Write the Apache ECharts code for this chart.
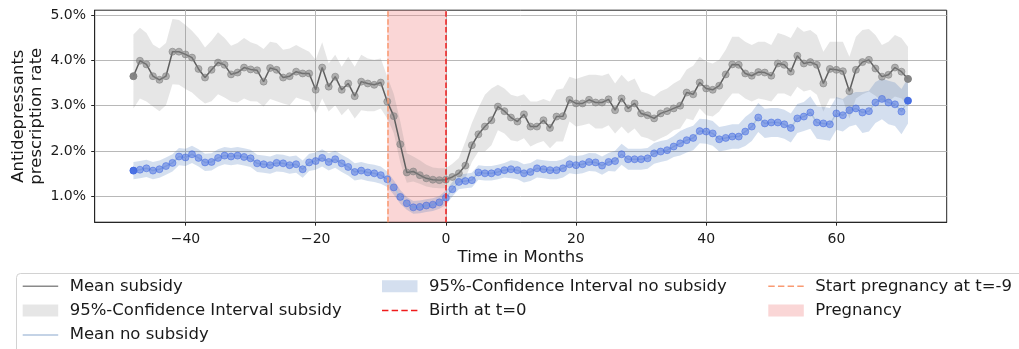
<!DOCTYPE html>
<html>
<head>
<meta charset="utf-8">
<script src="https://cdn.jsdelivr.net/npm/echarts@6/dist/echarts.min.js"></script>
<style>
  html, body { margin: 0; padding: 0; background: #ffffff; }
  #chart { width: 1019px; height: 349px; }
</style>
</head>
<body>
<div id="chart"></div>
<script>
// Months relative to birth (t = 0)
const months = [
  -48,-47,-46,-45,-44,-43,-42,-41,-40,-39,-38,-37,-36,-35,-34,-33,-32,-31,-30,-29,
  -28,-27,-26,-25,-24,-23,-22,-21,-20,-19,-18,-17,-16,-15,-14,-13,-12,-11,-10,-9,
  -8,-7,-6,-5,-4,-3,-2,-1,0,1,2,3,4,5,6,7,8,9,10,11,
  12,13,14,15,16,17,18,19,20,21,22,23,24,25,26,27,28,29,30,31,
  32,33,34,35,36,37,38,39,40,41,42,43,44,45,46,47,48,49,50,51,
  52,53,54,55,56,57,58,59,60,61,62,63,64,65,66,67,68,69,70,71
];

// Prescription rate (%) — women with subsidy
const subsidyMean = [
  3.65,3.99,3.91,3.65,3.57,3.65,4.19,4.19,4.13,4.06,
  3.81,3.62,3.79,3.95,3.90,3.69,3.73,3.84,3.80,3.78,
  3.53,3.83,3.79,3.62,3.65,3.75,3.71,3.71,3.35,3.84,
  3.42,3.64,3.35,3.49,3.21,3.53,3.49,3.46,3.51,3.09,
  2.77,2.15,1.53,1.55,1.47,1.40,1.37,1.36,1.37,1.43,
  1.51,1.68,2.13,2.37,2.54,2.68,2.98,2.88,2.74,2.65,
  2.81,2.54,2.54,2.68,2.51,2.76,2.77,3.13,3.05,3.05,
  3.13,3.07,3.07,3.14,2.90,3.16,2.94,3.05,2.83,2.79,
  2.72,2.83,2.88,2.94,3.00,3.29,3.25,3.51,3.38,3.35,
  3.44,3.69,3.91,3.90,3.71,3.66,3.74,3.73,3.66,3.93,
  3.90,3.75,4.10,3.93,3.96,3.90,3.49,3.81,3.79,3.76,
  3.32,3.79,3.96,4.01,3.82,3.64,3.68,3.84,3.75,3.59
];
const subsidyHigh = [
  4.57,4.72,4.60,4.35,4.26,4.38,4.91,4.89,4.78,4.65,
  4.49,4.28,4.43,4.62,4.49,4.32,4.38,4.49,4.40,4.35,
  4.25,4.41,4.38,4.23,4.26,4.34,4.26,4.19,4.01,4.40,
  3.93,4.12,3.86,4.08,3.86,4.12,4.04,4.01,4.04,3.64,
  3.26,2.65,1.95,1.88,1.80,1.70,1.64,1.62,1.62,1.72,
  1.85,2.21,2.62,2.95,3.24,3.38,3.46,3.38,3.24,3.20,
  3.25,3.09,3.09,3.15,3.09,3.35,3.38,3.64,3.59,3.64,
  3.68,3.68,3.66,3.71,3.49,3.68,3.53,3.60,3.31,3.27,
  3.20,3.32,3.38,3.49,3.57,3.80,3.88,4.08,3.97,3.93,
  4.01,4.23,4.52,4.52,4.41,4.34,4.41,4.41,4.34,4.60,
  4.56,4.49,4.74,4.63,4.67,4.56,4.19,4.41,4.41,4.41,
  4.08,4.52,4.67,4.69,4.56,4.34,4.41,4.56,4.49,4.30
];
const subsidyLow = [
  2.94,3.16,3.09,2.98,2.88,3.01,3.47,3.46,3.37,3.29,
  3.16,3.05,3.10,3.25,3.18,3.09,3.07,3.16,3.10,3.09,
  2.98,3.15,3.10,3.05,3.01,3.18,3.13,3.09,2.83,3.16,
  2.87,3.01,2.79,2.94,2.72,2.90,2.88,2.88,2.94,2.72,
  2.40,1.75,1.30,1.33,1.28,1.22,1.19,1.18,1.18,1.24,
  1.30,1.40,1.76,1.99,1.99,2.13,2.46,2.39,2.24,2.21,
  2.28,2.10,2.17,2.22,2.06,2.21,2.21,2.65,2.54,2.57,
  2.61,2.50,2.50,2.57,2.39,2.54,2.39,2.50,2.32,2.28,
  2.21,2.28,2.35,2.46,2.50,2.72,2.68,2.94,2.79,2.76,
  2.87,3.09,3.27,3.27,3.16,3.09,3.16,3.13,3.09,3.27,
  3.27,3.20,3.42,3.31,3.35,3.24,2.87,3.16,3.16,3.13,
  2.72,3.16,3.25,3.31,3.22,3.09,3.09,3.20,3.16,3.01
];

// Prescription rate (%) — women without subsidy
const noSubsidyMean = [
  1.57,1.59,1.62,1.57,1.60,1.67,1.74,1.88,1.86,1.93,
  1.85,1.75,1.76,1.85,1.90,1.88,1.90,1.87,1.84,1.73,
  1.71,1.69,1.74,1.73,1.69,1.71,1.60,1.75,1.78,1.85,
  1.76,1.82,1.73,1.65,1.54,1.57,1.53,1.51,1.47,1.38,
  1.20,0.99,0.85,0.76,0.77,0.80,0.82,0.87,0.97,1.16,
  1.32,1.34,1.36,1.53,1.51,1.51,1.54,1.58,1.60,1.58,
  1.51,1.54,1.62,1.60,1.58,1.58,1.62,1.71,1.69,1.71,
  1.76,1.75,1.68,1.76,1.78,1.93,1.82,1.82,1.82,1.84,
  1.95,1.99,2.02,2.10,2.17,2.24,2.29,2.44,2.43,2.39,
  2.26,2.29,2.32,2.32,2.43,2.54,2.74,2.61,2.63,2.63,
  2.59,2.51,2.72,2.76,2.85,2.63,2.61,2.59,2.83,2.79,
  2.90,2.94,2.85,2.88,3.07,3.15,3.07,3.03,2.87,3.11
];
const noSubsidyHigh = [
  1.76,1.78,1.81,1.76,1.79,1.86,1.93,2.07,2.05,2.12,
  2.04,1.94,1.95,2.04,2.09,2.07,2.09,2.06,2.03,1.92,
  1.90,1.88,1.93,1.92,1.88,1.90,1.79,1.94,1.97,2.04,
  1.95,2.01,1.92,1.84,1.73,1.76,1.72,1.70,1.66,1.55,
  1.36,1.14,0.99,0.90,0.91,0.94,0.96,1.01,1.13,1.32,
  1.48,1.50,1.52,1.69,1.67,1.67,1.70,1.74,1.80,1.78,
  1.71,1.74,1.82,1.80,1.78,1.78,1.82,1.91,1.89,1.91,
  1.96,1.95,1.88,1.96,2.01,2.16,2.05,2.05,2.05,2.07,
  2.18,2.22,2.25,2.33,2.44,2.51,2.56,2.71,2.70,2.66,
  2.53,2.56,2.59,2.59,2.75,2.86,3.06,2.93,2.95,2.95,
  2.91,2.83,3.04,3.08,3.21,2.99,2.97,2.95,3.19,3.15,
  3.26,3.30,3.30,3.33,3.52,3.60,3.55,3.51,3.37,3.61
];
const noSubsidyLow = [
  1.38,1.40,1.43,1.38,1.41,1.48,1.55,1.69,1.67,1.74,
  1.66,1.56,1.57,1.66,1.71,1.69,1.71,1.68,1.65,1.54,
  1.52,1.50,1.55,1.54,1.50,1.52,1.41,1.56,1.59,1.66,
  1.57,1.63,1.54,1.46,1.35,1.38,1.34,1.32,1.28,1.21,
  1.04,0.84,0.71,0.62,0.63,0.66,0.68,0.73,0.81,1.00,
  1.16,1.18,1.20,1.37,1.35,1.35,1.38,1.42,1.40,1.38,
  1.31,1.34,1.42,1.40,1.38,1.38,1.42,1.51,1.49,1.51,
  1.56,1.55,1.48,1.56,1.55,1.70,1.59,1.59,1.59,1.61,
  1.72,1.76,1.79,1.87,1.90,1.97,2.02,2.17,2.16,2.12,
  1.99,2.02,2.05,2.05,2.11,2.22,2.42,2.29,2.31,2.31,
  2.27,2.19,2.40,2.44,2.49,2.27,2.25,2.23,2.47,2.43,
  2.54,2.58,2.40,2.43,2.62,2.70,2.59,2.55,2.37,2.61
];

// Event markers (months)
const pregnancyStart = -9;
const birthMonth = 0;

// Axis ticks and their labels
const xTicks = [-40, -20, 0, 20, 40, 60];
const xTickLabels = ['\u221240', '\u221220', '0', '20', '40', '60'];
const yTicks = [1, 2, 3, 4, 5];
const yTickLabels = ['1.0%', '2.0%', '3.0%', '4.0%', '5.0%'];

const FONT = 'DejaVu Sans';
const TEXT = '#1a1a1a';

// Confidence band: one polygon through the upper bound and back along the lower bound
function bandRenderer(lo, hi) {
  return function (params, api) {
    if (params.dataIndex !== 0) return null;
    const pts = [];
    for (let i = 0; i < months.length; i++) pts.push(api.coord([months[i], hi[i]]));
    for (let i = months.length - 1; i >= 0; i--) pts.push(api.coord([months[i], lo[i]]));
    return { type: 'polygon', shape: { points: pts }, style: { fill: api.visual('color') } };
  };
}

function meanPoints(values) {
  const last = months.length - 1;
  return months.map(function (t, i) {
    const item = { value: [t, values[i]] };
    if (i === 0 || i === last) item.itemStyle = { opacity: 0.95 };
    return item;
  });
}

const LINE_ICON = 'path://M0,0M36,12M0,5.25h36v1.5h-36z';
const DASH_ICON = 'path://M0,0M36,12M0,5.25h6.5v1.5h-6.5zM9.8,5.25h6.5v1.5h-6.5zM19.6,5.25h6.5v1.5h-6.5zM29.4,5.25h6.5v1.5h-6.5z';

const GRAY_BAND = 'rgba(128,128,128,0.2)';
const BLUE_BAND = 'rgba(60,110,180,0.22)';
const PINK = 'rgba(240,128,128,0.32)';
const BIRTH_RED = '#f01c1c';
const START_ORANGE = '#f99a72';

const legendBase = {
  orient: 'vertical',
  padding: 0,
  top: 276.8,
  itemWidth: 35.5,
  itemHeight: 12,
  itemGap: 5.3,
  selectedMode: false,
  textStyle: { fontFamily: FONT, fontSize: 16.5, lineHeight: 19, color: TEXT, padding: [0, 0, 0, 6.5] }
};

const chart = echarts.init(document.getElementById('chart'), null, { renderer: 'canvas' });

chart.setOption({
  animation: false,
  backgroundColor: '#ffffff',
  textStyle: { fontFamily: FONT },
  grid: {
    left: 94.7, right: 72.3, top: 10.2, bottom: 126.8,
    outerBoundsMode: 'none',
    show: true, borderColor: '#262626', borderWidth: 1, backgroundColor: 'transparent'
  },
  graphic: [{
    type: 'rect', silent: true, z: 0,
    shape: { x: 16.5, y: 273.5, width: 1010, height: 90, r: 4 },
    style: { fill: '#ffffff', stroke: '#d2d2d2', lineWidth: 1 }
  }],
  legend: [
    Object.assign({}, legendBase, {
      left: 22.7,
      data: [
        { name: 'Mean subsidy', icon: LINE_ICON, itemStyle: { color: '#8a8a8a', opacity: 1, borderWidth: 0 } },
        { name: '95%-Confidence Interval subsidy', icon: 'rect', itemStyle: { color: GRAY_BAND } },
        { name: 'Mean no subsidy', icon: LINE_ICON, itemStyle: { color: '#b0c4de', opacity: 1, borderWidth: 0 } }
      ]
    }),
    Object.assign({}, legendBase, {
      left: 382,
      data: [
        { name: '95%-Confidence Interval no subsidy', icon: 'rect', itemStyle: { color: BLUE_BAND } },
        { name: 'Birth at t=0', icon: DASH_ICON, itemStyle: { color: BIRTH_RED, opacity: 1, borderWidth: 0 } }
      ]
    }),
    Object.assign({}, legendBase, {
      left: 768.3,
      data: [
        { name: 'Start pregnancy at t=-9', icon: DASH_ICON, itemStyle: { color: START_ORANGE, opacity: 1, borderWidth: 0 } },
        { name: 'Pregnancy', icon: 'rect', itemStyle: { color: PINK } }
      ]
    })
  ],
  xAxis: {
    type: 'value',
    min: -53.95, max: 76.95,
    name: 'Time in Months',
    nameLocation: 'middle',
    nameGap: 27,
    nameMoveOverlap: false,
    nameTextStyle: { fontFamily: FONT, fontSize: 16.5, color: TEXT },
    axisLine: { show: true, onZero: false, lineStyle: { color: '#262626', width: 1 } },
    axisTick: { show: true, length: 3.5, customValues: xTicks, lineStyle: { color: '#262626', width: 1 } },
    axisLabel: {
      customValues: xTicks,
      margin: 10.5,
      fontFamily: FONT, fontSize: 14, color: TEXT,
      formatter: function (v) { return xTickLabels[xTicks.indexOf(v)]; }
    },
    splitLine: { show: true, lineStyle: { color: '#b8b8b8', width: 1 } }
  },
  yAxis: {
    type: 'value',
    min: 0.433, max: 5.104,
    name: 'Antidepressants\nprescription rate',
    nameLocation: 'middle',
    nameRotate: 90,
    nameGap: 48.5,
    nameMoveOverlap: false,
    nameTextStyle: { fontFamily: FONT, fontSize: 16.5, lineHeight: 18.5, color: TEXT, align: 'center' },
    axisLine: { show: true, onZero: false, lineStyle: { color: '#262626', width: 1 } },
    axisTick: { show: true, length: 3.5, customValues: yTicks, lineStyle: { color: '#262626', width: 1 } },
    axisLabel: {
      customValues: yTicks,
      margin: 8.7,
      fontFamily: FONT, fontSize: 14, color: TEXT,
      formatter: function (v) { return yTickLabels[yTicks.indexOf(v)]; }
    },
    splitLine: { show: true, lineStyle: { color: '#b8b8b8', width: 1 } }
  },
  series: [
    {
      name: '95%-Confidence Interval subsidy',
      type: 'custom', z: 1, silent: true,
      itemStyle: { color: GRAY_BAND },
      encode: { x: 0, y: [1, 2] },
      data: months.map(function (t, i) { return [t, subsidyLow[i], subsidyHigh[i]]; }),
      renderItem: bandRenderer(subsidyLow, subsidyHigh)
    },
    {
      name: '95%-Confidence Interval no subsidy',
      type: 'custom', z: 1, silent: true,
      itemStyle: { color: BLUE_BAND },
      encode: { x: 0, y: [1, 2] },
      data: months.map(function (t, i) { return [t, noSubsidyLow[i], noSubsidyHigh[i]]; }),
      renderItem: bandRenderer(noSubsidyLow, noSubsidyHigh)
    },
    {
      name: 'Pregnancy',
      type: 'line', z: 2, data: [],
      itemStyle: { color: PINK },
      markArea: {
        silent: true,
        itemStyle: { color: PINK },
        data: [[{ xAxis: pregnancyStart }, { xAxis: birthMonth }]]
      }
    },
    {
      name: 'Mean subsidy',
      type: 'line', z: 3, silent: true,
      symbol: 'circle', symbolSize: 7,
      lineStyle: { color: '#5e5e5e', width: 1.5 },
      itemStyle: { color: '#808080', borderColor: '#808080', borderWidth: 1, opacity: 0.55 },
      data: meanPoints(subsidyMean)
    },
    {
      name: 'Mean no subsidy',
      type: 'line', z: 3, silent: true,
      symbol: 'circle', symbolSize: 7,
      lineStyle: { color: '#b0c4de', width: 1.5 },
      itemStyle: { color: '#4169e1', borderColor: '#4169e1', borderWidth: 1, opacity: 0.5 },
      data: meanPoints(noSubsidyMean)
    },
    {
      name: 'Start pregnancy at t=-9',
      type: 'line', z: 5, data: [],
      itemStyle: { color: START_ORANGE },
      markLine: {
        silent: true, symbol: ['none', 'none'], label: { show: false },
        lineStyle: { color: START_ORANGE, type: [5.5, 2.4], width: 1.5 },
        data: [{ xAxis: pregnancyStart }]
      }
    },
    {
      name: 'Birth at t=0',
      type: 'line', z: 5, data: [],
      itemStyle: { color: BIRTH_RED },
      markLine: {
        silent: true, symbol: ['none', 'none'], label: { show: false },
        lineStyle: { color: BIRTH_RED, type: [5.5, 2.4], width: 1.5 },
        data: [{ xAxis: birthMonth }]
      }
    }
  ]
});
</script>
</body>
</html>
